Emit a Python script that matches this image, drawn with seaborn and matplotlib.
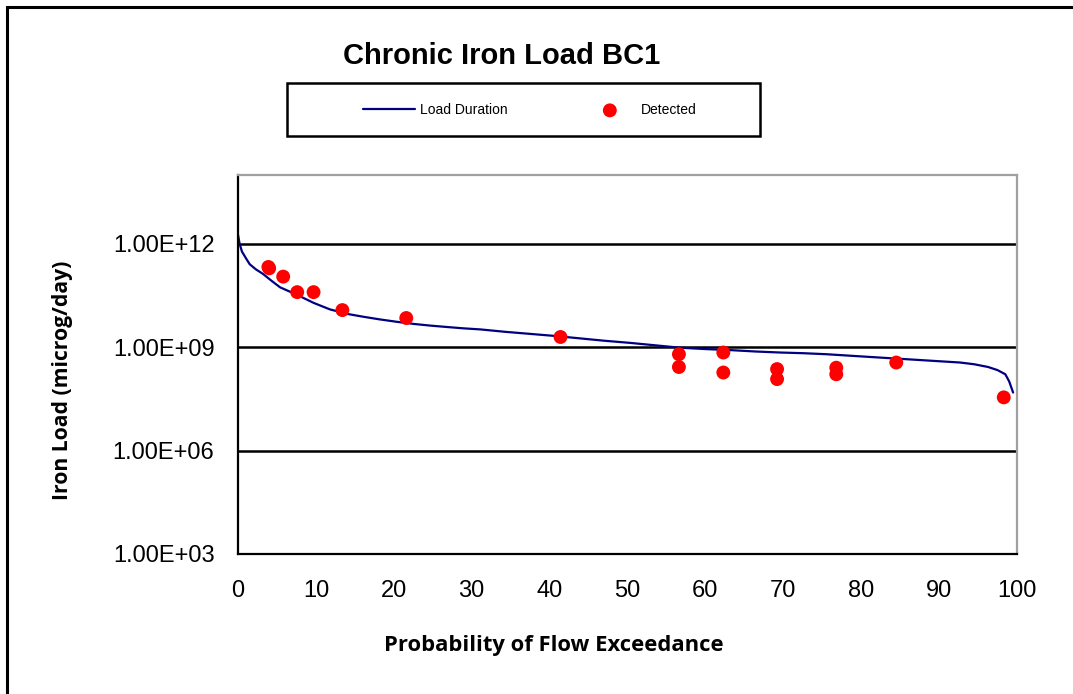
import numpy as np
import pandas as pd
import matplotlib
matplotlib.use("Agg")
import matplotlib.pyplot as plt
import seaborn as sns
from matplotlib.patches import Rectangle

# --- data ---
# load duration curve (percent exceedance, load in microg/day)
ld_pct = [0.0, 0.2, 0.5, 1.0, 1.5, 2.3, 3.2, 4.3, 5.4, 6.5, 7.5, 8.6, 9.7, 10.8,
          11.8, 13.0, 14.0, 16.0, 18.2, 20.4, 22.5, 24.7, 26.8, 29.0, 31.1,
          34.3, 37.5, 40.7, 43.9, 47.1, 50.3, 53.5, 56.7, 60.0, 63.2, 66.4,
          69.6, 72.6, 75.6, 79.8, 84.1, 88.4, 92.7, 94.5, 96.3, 97.5, 98.5,
          99.0, 99.5]
ld_log = [12.25, 12.0, 11.77, 11.58, 11.40, 11.25, 11.12, 10.92, 10.73, 10.62,
          10.52, 10.40, 10.28, 10.18, 10.09, 10.02, 9.96, 9.88, 9.80, 9.73,
          9.67, 9.62, 9.58, 9.54, 9.51, 9.44, 9.38, 9.32, 9.25, 9.18, 9.12,
          9.05, 8.98, 8.94, 8.91, 8.87, 8.84, 8.82, 8.79, 8.73, 8.67, 8.61,
          8.55, 8.50, 8.42, 8.33, 8.21, 8.00, 7.68]

# detected samples
det_pct = [3.9, 4.0, 5.8, 7.6, 9.7, 13.4, 21.6, 41.4, 56.6, 56.6, 62.3, 62.3,
           69.2, 69.2, 76.8, 76.8, 84.5, 98.3]
det_log = [11.32, 11.28, 11.04, 10.59, 10.59, 10.07, 9.84, 9.29, 8.79, 8.42,
           8.84, 8.26, 8.36, 8.07, 8.40, 8.21, 8.55, 7.54]

ytick_vals = [1e3, 1e6, 1e9, 1e12]
ytick_labels = ["1.00E+03", "1.00E+06", "1.00E+09", "1.00E+12"]
xtick_vals = list(range(0, 101, 10))

ld = pd.DataFrame({"pct": ld_pct, "load": 10 ** np.array(ld_log)})
det = pd.DataFrame({"pct": det_pct, "load": 10 ** np.array(det_log)})

sns.set_style("white")
plt.rcParams["font.family"] = ["Liberation Sans", "DejaVu Sans"]
plt.rcParams["text.color"] = "black"
plt.rcParams["xtick.color"] = "black"
plt.rcParams["ytick.color"] = "black"

fig = plt.figure(figsize=(10.73, 6.94), dpi=100)
ax = fig.add_axes([238 / 1073, 140 / 694, 779 / 1073, 379.5 / 694])

sns.lineplot(data=ld, x="pct", y="load", color="#000080", lw=1.6, ax=ax,
             label="Load Duration", legend=False)
sns.scatterplot(data=det, x="pct", y="load", color="#ff0000", s=100,
                edgecolor="none", ax=ax, label="Detected", legend=False, zorder=3)

ax.set_yscale("log")
ax.set_ylim(1e3, 1e14)
ax.set_xlim(0, 100)
ax.set_yticks(ytick_vals)
ax.set_yticklabels(ytick_labels)
ax.minorticks_off()
ax.set_xticks(xtick_vals)
ax.tick_params(axis="both", labelsize=17, length=5, width=1.2,
               direction="out")
ax.tick_params(axis="x", pad=14)
ax.tick_params(axis="y", pad=12)
for y in ytick_vals[1:]:
    ax.axhline(y, color="black", lw=1.8, zorder=1)
ax.set_xlabel("")
ax.set_ylabel("")

ax.spines["left"].set_color("black")
ax.spines["bottom"].set_color("black")
ax.spines["left"].set_linewidth(1.6)
ax.spines["bottom"].set_linewidth(1.6)
ax.spines["top"].set_color("#a0a0a0")
ax.spines["right"].set_color("#a0a0a0")
ax.spines["top"].set_linewidth(1.6)
ax.spines["right"].set_linewidth(1.6)

# titles and axis labels
fig.text(502 / 1073, 1 - 56 / 694, "Chronic Iron Load BC1", ha="center",
         va="center", fontsize=21, fontweight="bold")
fig.text(554 / 1073, 1 - 646 / 694, "Probability of Flow Exceedance",
         ha="center", va="center", fontsize=15.8, fontweight="bold",
         family=["Open Sans", "DejaVu Sans"])
fig.text(63 / 1073, 1 - 380 / 694, "Iron Load (microg/day)", ha="center",
         va="center", rotation=90, fontsize=15.2, fontweight="bold",
         family=["Open Sans", "DejaVu Sans"])

# legend box
fig.patches.append(Rectangle((287 / 1073, 1 - 136 / 694), 473 / 1073, 53 / 694,
                             transform=fig.transFigure, fill=False,
                             edgecolor="black", lw=1.8))
handles, labels = ax.get_legend_handles_labels()
fig.legend(handles, labels, loc="center", bbox_to_anchor=(530 / 1073, 1 - 110 / 694),
           ncol=2, frameon=False, fontsize=10, handlelength=3.7,
           handletextpad=0.4, columnspacing=5.5)

# outer chart border
fig.patches.append(Rectangle((7 / 1073, -0.05), 1.2, 1 - 7 / 694 + 0.05,
                             transform=fig.transFigure, fill=False,
                             edgecolor="black", lw=2.2))

fig.savefig("out.png", dpi=100)
